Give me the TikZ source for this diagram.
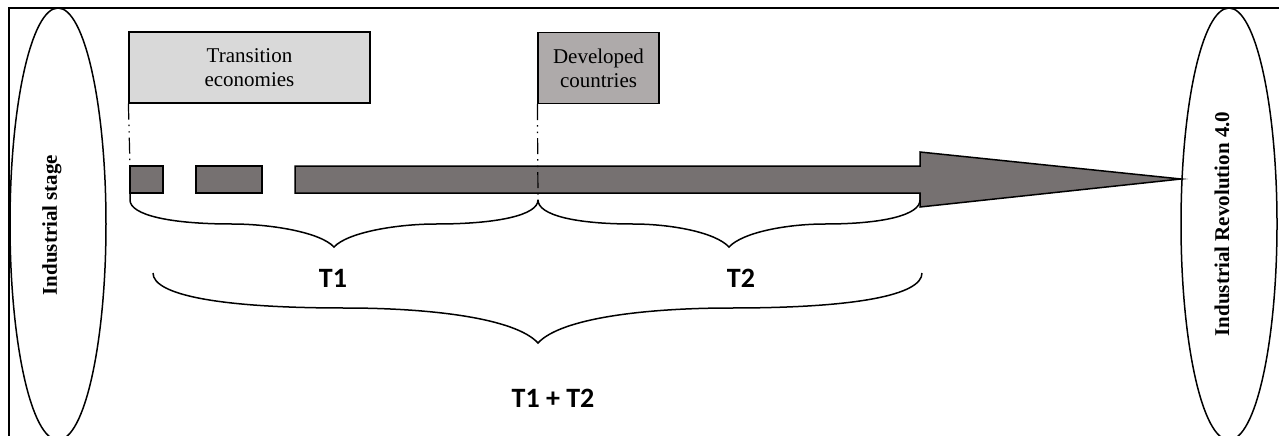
\documentclass[tikz,border=0pt]{standalone}
\usepackage{fontspec}
\setmainfont{Liberation Serif}
\newfontfamily\calibri{Carlito}
\usepackage{tikz}
\usetikzlibrary{shapes.geometric}

\definecolor{lightbox}{HTML}{D9D9D9}
\definecolor{midbox}{HTML}{AEAAAA}
\definecolor{bargray}{HTML}{767171}

\begin{document}
\begin{tikzpicture}[x=1pt, y=-1pt,
    stage/.style={draw, line width=1.5pt, ellipse, minimum width=96pt, minimum height=432pt, inner sep=0pt},
    stagetext/.style={rotate=90, font=\bfseries\fontsize{21}{24}\selectfont},
    group/.style={draw, line width=1.2pt, minimum height=71pt, inner sep=0pt, align=center, font=\fontsize{21}{24}\selectfont},
    bar/.style={draw, line width=1.5pt, fill=bargray},
    guide/.style={line width=1.2pt, dash pattern=on 16pt off 5pt on 1.5pt off 5pt on 1.5pt off 5pt},
    curly/.style={line width=1.5pt},
    period/.style={font=\calibri\bfseries\fontsize{28}{30}\selectfont}]

      \useasboundingbox (0,0) rectangle (1279,436);
      \draw[line width=1.5pt] (9,445) -- (9,8) -- (1290,8);

      \node[stage] (start) at (58,224) {};
      \node[stage] (goal) at (1229,224) {};
      \node[stagetext] (startlabel) at (52,225) {Industrial stage};
      \node[stagetext] (goallabel) at (1222,224) {Industrial Revolution 4.0};

      \node[group, fill=lightbox, minimum width=241pt] (trans) at (249.5,67.5) {Transition\\economies};
      \node[group, fill=midbox, minimum width=121pt] (dev) at (598.5,68) {Developed\\countries};

      \draw[bar] (130,166) rectangle (163,193);
      \draw[bar] (196,166) rectangle (262,193);
      \draw[bar] (295,166) -- (920,166) -- (920,152) -- (1181,179) -- (920,207) -- (920,193) -- (295,193) -- cycle;

      \coordinate (transfoot) at (130,166);
      \coordinate (devfoot) at (538,200);
      \draw[guide] (trans.south west) -- (transfoot);
      \draw[guide] (dev.south west) -- (devfoot);

      \draw[curly] (130,193) -- (130,200) .. controls (130,215) and (170,224) .. (232,224)
        .. controls (270,224) and (320,232) .. (334,247)
        .. controls (348,232) and (398,224) .. (436,224)
        .. controls (498,224) and (538,215) .. (538,200);
      \draw[curly] (538,200) .. controls (538,215) and (575,224) .. (633,224)
        .. controls (670,224) and (715,232) .. (729,247)
        .. controls (743,232) and (788,224) .. (825,224)
        .. controls (883,224) and (920,215) .. (920,200) -- (920,193);
      \draw[curly] (153,273) .. controls (153,295) and (220,308) .. (345,308)
        .. controls (430,308) and (515,318) .. (538,343)
        .. controls (561,318) and (646,308) .. (731,308)
        .. controls (856,308) and (922,295) .. (922,273);

      \node[period] (t1) at (333,278) {T1};
      \node[period] (t2) at (741,278) {T2};
      \node[period] (total) at (553,398) {T1 + T2};
\end{tikzpicture}
\end{document}
